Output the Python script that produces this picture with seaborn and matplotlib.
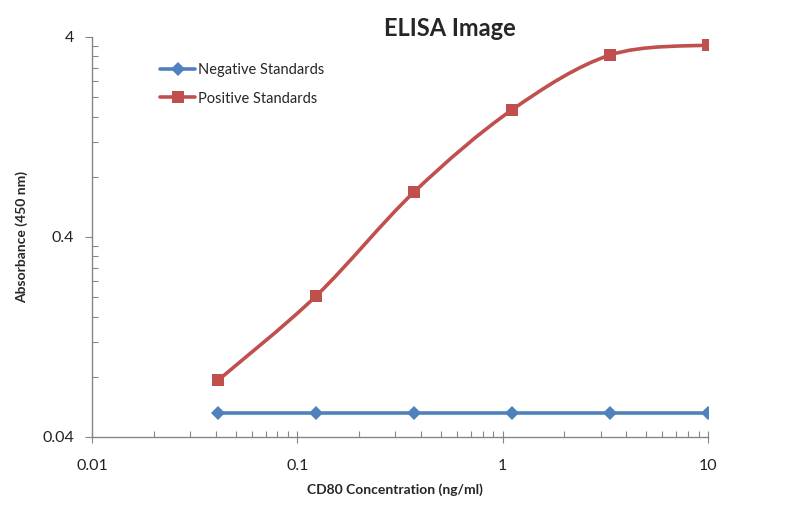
import numpy as np
import pandas as pd
import seaborn as sns
import matplotlib
matplotlib.use('Agg')
import matplotlib.pyplot as plt
from matplotlib.path import Path
from matplotlib.patches import PathPatch
from matplotlib.lines import Line2D
from matplotlib.ticker import FixedLocator, NullFormatter

concentration = [0.0412, 0.1235, 0.370, 1.111, 3.333, 10.0]
negative = [0.0527, 0.0527, 0.0527, 0.0527, 0.0527, 0.0527]
positive = [0.077, 0.203, 0.671, 1.73, 3.25, 3.65]
series_names = ["Negative Standards", "Positive Standards"]
y_ticks = [0.04, 0.4, 4]
y_tick_labels = ["0.04", "0.4", "4"]
x_ticks = [0.01, 0.1, 1, 10]
x_tick_labels = ["0.01", "0.1", "1", "10"]

BLUE = "#4F81BD"
RED = "#C0504D"
AX = "#868686"

sns.set_theme(style="white")
plt.rcParams['font.family'] = ['Lato', 'DejaVu Sans']

fig = plt.figure(figsize=(8, 5.26), dpi=100)
ax = fig.add_axes([92/800, 1-437/526, 616/800, 400/526])

df = pd.DataFrame({"x": concentration * 2,
                   "y": negative + positive,
                   "series": [series_names[0]]*6 + [series_names[1]]*6})

# Negative: straight line with diamonds
neg = df[df.series == series_names[0]]
sns.lineplot(data=neg, x="x", y="y", ax=ax, color=BLUE, lw=2.6,
             marker="D", markersize=7, markeredgewidth=0, legend=False, zorder=3)

# Positive: smoothed (Excel-style) curve drawn as Bezier in log space
pos = df[df.series == series_names[1]]
lx = np.log10(pos.x.values); ly = np.log10(pos.y.values)
P = np.column_stack([lx, ly])
verts = [P[0]]; codes = [Path.MOVETO]
n = len(P)
for i in range(n-1):
    p0 = P[i-1] if i > 0 else P[i]
    p3 = P[i+2] if i+2 < n else P[i+1]
    c1 = P[i] + (P[i+1]-p0)/6
    c2 = P[i+1] - (p3-P[i])/6
    verts += [c1, c2, P[i+1]]; codes += [Path.CURVE4]*3
verts = 10**np.array(verts)
patch = PathPatch(Path(verts, codes), facecolor='none', edgecolor=RED, lw=2.6,
                  transform=ax.transData, zorder=3)
ax.add_patch(patch)
sns.scatterplot(data=pos, x="x", y="y", ax=ax, color=RED, marker="s", s=70,
                linewidth=0, legend=False, zorder=4)

ax.set_xscale('log'); ax.set_yscale('log')
ax.set_xlim(0.01, 10); ax.set_ylim(0.04, 4)

ax.xaxis.set_major_locator(FixedLocator(x_ticks))
ax.set_xticklabels(x_tick_labels)
ax.xaxis.set_minor_locator(FixedLocator([d*k for d in [0.01, 0.1, 1] for k in range(2, 10)]))
ax.xaxis.set_minor_formatter(NullFormatter())
ax.yaxis.set_major_locator(FixedLocator(y_ticks))
ax.set_yticklabels(y_tick_labels)
ax.yaxis.set_minor_locator(FixedLocator([d*k for d in [0.04, 0.4] for k in range(2, 10)]))
ax.yaxis.set_minor_formatter(NullFormatter())

for s in ['top', 'right']:
    ax.spines[s].set_visible(False)
for s in ['left', 'bottom']:
    ax.spines[s].set_color(AX); ax.spines[s].set_linewidth(1.0)

ax.tick_params(which='both', bottom=True, left=True, top=False, right=False)
ax.tick_params(axis='x', which='major', direction='inout', length=8, width=0.8,
               color=AX, pad=12, labelsize=11.5, labelcolor='#222222')
ax.tick_params(axis='x', which='minor', direction='in', length=4, width=0.8, color=AX)
ax.tick_params(axis='y', which='major', direction='out', length=5, width=0.8,
               color=AX, pad=8, labelsize=11.5, labelcolor='#222222')
ax.tick_params(axis='y', which='minor', direction='in', length=4, width=0.8, color=AX)

ax.set_xlabel("CD80 Concentration (ng/ml)", fontsize=10, fontweight='bold')
ax.set_ylabel("Absorbance (450 nm)", fontsize=10, fontweight='bold')
ax.xaxis.set_label_coords((395-92)/616, (437-483)/400)
ax.yaxis.set_label_coords((28-92)/616, 0.5)

fig.text(450/800, 1-28/526, "ELISA Image", ha='center', va='center',
         fontsize=17, fontweight='bold')

handles = [Line2D([], [], color=BLUE, lw=2.6, marker='D', markersize=7, markeredgewidth=0),
           Line2D([], [], color=RED, lw=2.6, marker='s', markersize=8, markeredgewidth=0)]
ax.legend(handles, series_names, loc='upper left', bbox_to_anchor=((160-92)/616, (437-63)/400),
          frameon=False, fontsize=10.5, handlelength=2.4, handletextpad=0.2,
          labelspacing=1.0, borderaxespad=0, borderpad=0)

fig.savefig("out.png", dpi=100)
